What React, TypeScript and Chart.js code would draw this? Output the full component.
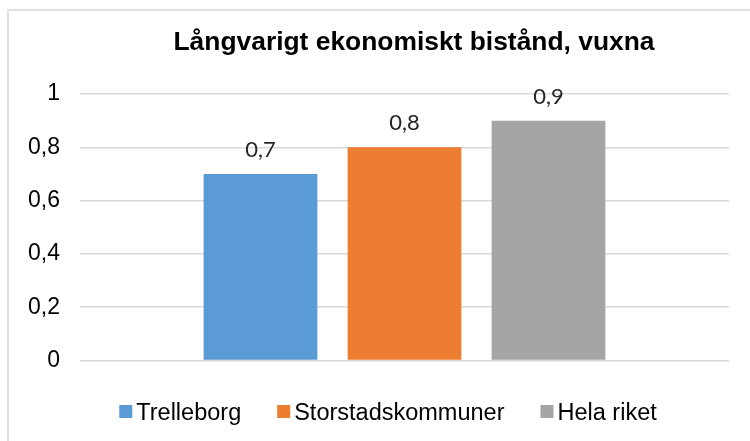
import React, { useEffect, useRef } from 'react';
import { Chart, registerables } from 'chart.js';

Chart.register(...registerables);

const categories = [''];
const seriesNames = ['Trelleborg', 'Storstadskommuner', 'Hela riket'];
const trelleborg = [0.7];
const storstadskommuner = [0.8];
const helaRiket = [0.9];
const seriesColors = ['#5B9BD5', '#ED7D31', '#A5A5A5'];
const yTickLabels = ['0', '0,2', '0,4', '0,6', '0,8', '1'];
const chartTitle = 'Långvarigt ekonomiskt bistånd, vuxna';

const fmt = (v: number) => String(v).replace('.', ',');

const decorPlugin = {
  id: 'decor',
  afterDatasetsDraw(chart: any) {
    const ctx = chart.ctx;
    ctx.save();
    ctx.font = '22px Lato';
    ctx.fillStyle = '#262626';
    ctx.textAlign = 'center';
    ctx.textBaseline = 'alphabetic';
    chart.data.datasets.forEach((ds: any, i: number) => {
      const meta = chart.getDatasetMeta(i);
      meta.data.forEach((el: any, j: number) => {
        ctx.fillText(fmt(ds.data[j]), el.x, el.y - 17);
      });
    });
    ctx.restore();
  },
  afterDraw(chart: any) {
    const ctx = chart.ctx;
    ctx.save();
    // title
    ctx.font = 'bold 26.4px "Liberation Sans"';
    ctx.fillStyle = '#000';
    ctx.textAlign = 'center';
    ctx.textBaseline = 'alphabetic';
    ctx.fillText(chartTitle, 414, 50);
    // legend
    ctx.font = '23.5px "Liberation Sans"';
    ctx.textAlign = 'left';
    const box = 13;
    const gapText = 4;
    const gapItem = 36;
    const items = chart.data.datasets.map((ds: any) => ({
      label: ds.label,
      color: ds.backgroundColor,
      w: ctx.measureText(ds.label).width,
    }));
    const total = items.reduce((s: number, it: any) => s + box + gapText + it.w, 0) + gapItem * (items.length - 1);
    let x = 388 - total / 2;
    const cy = 411.5;
    items.forEach((it: any) => {
      ctx.fillStyle = it.color;
      ctx.fillRect(x, cy - box / 2, box, box);
      x += box + gapText;
      ctx.fillStyle = '#000';
      ctx.fillText(it.label, x, 420);
      x += it.w + gapItem;
    });
    ctx.restore();
  },
};

export default function App() {
  const ref = useRef<HTMLCanvasElement>(null);
  useEffect(() => {
    document.documentElement.style.overflow = 'hidden';
    document.body.style.overflow = 'hidden';
    const values = [trelleborg, storstadskommuner, helaRiket];
    const chart = new Chart(ref.current!, {
      type: 'bar',
      data: {
        labels: categories,
        datasets: seriesNames.map((name, i) => ({
          label: name,
          data: values[i],
          backgroundColor: seriesColors[i],
          borderWidth: 0,
          categoryPercentage: 0.6656,
          barPercentage: 0.79,
        })),
      },
      options: {
        responsive: false,
        animation: false,
        devicePixelRatio: 1,
        layout: { padding: { top: 94, bottom: 80.5, left: 0, right: 21 } },
        plugins: {
          legend: { display: false },
          title: { display: false },
          tooltip: { enabled: false },
        },
        scales: {
          x: { display: false },
          y: {
            min: 0,
            max: 1,
            afterFit: (scale: any) => {
              scale.width = 80;
            },
            ticks: {
              stepSize: 0.2,
              padding: 20,
              color: '#000',
              font: { family: '"Liberation Sans"', size: 23 },
              callback: (_v: any, idx: number) => yTickLabels[idx],
            },
            grid: { color: '#d9d9d9', lineWidth: 1.5, drawTicks: false },
            border: { display: false },
          },
        },
      },
      plugins: [decorPlugin],
    });
    return () => chart.destroy();
  }, []);
  return (
    <div style={{ position: 'fixed', left: 0, top: 0, width: 750, height: 441, overflow: 'hidden', background: '#fff' }}>
      <div
        style={{
          position: 'absolute',
          left: 7,
          top: 9,
          width: 800,
          height: 500,
          border: '2px solid #e0e0e0',
          boxSizing: 'border-box',
        }}
      />
      <canvas ref={ref} width={750} height={441} style={{ position: 'absolute', left: 0, top: 0 }} />
    </div>
  );
}
